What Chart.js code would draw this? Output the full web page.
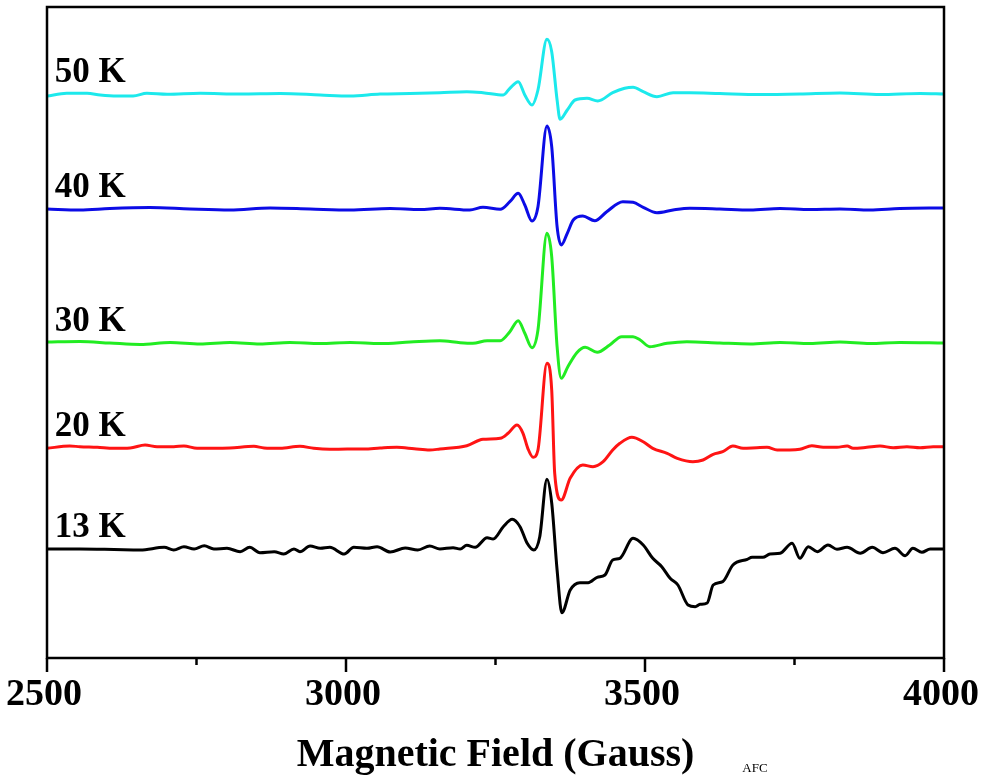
<!DOCTYPE html>
<html>
<head>
<meta charset="utf-8">
<script src="https://cdn.jsdelivr.net/npm/chart.js@4"></script>
<style>
html,body{margin:0;padding:0;background:#fff;}
#wrap{width:985px;height:775px;position:relative;}
</style>
</head>
<body>
<div id="wrap"><canvas id="c" width="985" height="775"></canvas></div>
<script>
// ---- data (field in Gauss, signal relative to each trace's baseline) ----
const seriesNames = ["50 K", "40 K", "30 K", "20 K", "13 K"];
const offsets = [564, 449, 315, 210, 109];

const field50 = [2500,2533,2567,2589,2617,2644,2667,2701,2756,2823,2890,2957,3007,3057,3107,3157,3202,3229,3263,3274,3288,3299,3311,3321,3336,3344,3353,3358,3370,3383,3403,3421,3446,3466,3480,3497,3520,3547,3575,3625,3692,3759,3826,3893,3960,4000];
const signal50 = [-2,0.7,0.7,-1,-2,-2,0.7,-0.3,0.7,0,0.5,-1,-2,0,0.5,1.3,2.3,1.3,-1,5.7,12.3,-1,-11,4,54.7,42.3,-6,-25.3,-16,-6,-4.3,-7,1.3,5.7,6.7,2.3,-2.7,1.3,1.3,0.5,-0.5,0,1,-0.5,0.5,0];

const field40 = [2500,2555,2605,2672,2739,2806,2873,2940,3007,3074,3124,3157,3207,3229,3258,3274,3288,3299,3311,3321,3336,3344,3353,3360,3370,3380,3396,3416,3436,3463,3480,3497,3520,3547,3575,3625,3676,3726,3776,3826,3876,3926,4000];
const signal40 = [0,-1,0.5,1.5,0,-1,1,0,-1,0.5,-0.5,0.7,-1,1.7,-0.3,7.3,15.7,4,-12,2.3,83,62.3,-17.7,-36,-24.3,-11,-7,-11.7,-2.7,7.3,6.7,1.7,-3.7,-1,0.7,0,-1,0.5,-0.5,0,-1,0.5,1];

const field30 = [2500,2555,2605,2656,2706,2756,2806,2856,2906,2957,3007,3057,3107,3157,3191,3212,3236,3258,3274,3288,3299,3311,3321,3336,3344,3353,3360,3371,3386,3400,3420,3441,3461,3480,3492,3508,3537,3570,3625,3676,3726,3776,3826,3876,3926,4000];
const signal30 = [1,1.5,0,-1.5,0.5,-1,0.5,-1,0.5,-0.5,0.5,-0.5,1,2.3,0.3,-0.3,2.3,2.3,11.3,22.3,9.7,-4.7,13,109.7,86.3,-3.7,-35.3,-23.7,-9.7,-4.3,-9.3,-2,6.3,6.3,3,-3.7,-0.3,1.3,0,-1,0.5,-0.5,1,-0.5,0.5,0];

const field20 = [2500,2538,2555,2584,2612,2639,2664,2684,2712,2729,2751,2779,2806,2846,2863,2890,2923,2946,2973,3002,3030,3057,3085,3114,3140,3157,3202,3229,3258,3271,3286,3296,3304,3313,3321,3336,3344,3349,3360,3375,3396,3413,3430,3446,3458,3478,3497,3513,3537,3554,3580,3597,3614,3630,3647,3664,3687,3704,3721,3742,3759,3779,3798,3821,3838,3848,3871,3893,3915,3938,3960,3982,4000];
const signal20 = [-0.3,2,1.3,0.7,-0.3,0,3,1.3,1.3,2,-0.3,-0.3,0,1.7,0,-0.3,1.7,-0.3,-1.3,-1,-1,0,0.7,-0.7,-2,-1,2.3,8.7,9.7,14.7,23,14.7,-0.3,-9.3,-2,84.7,58,-25.3,-52,-30,-17,-18.7,-13.7,-2,4.7,10.7,6.3,-0.3,-5.3,-10.3,-13.7,-12,-6.3,-3.7,2,-0.3,0.3,0.7,-2,-2,-1.3,2.3,0.7,0.7,2,-0.3,0.7,2,0.3,1.3,0.3,1.3,1.3];

const field13 = [2500,2555,2612,2656,2696,2712,2729,2746,2763,2779,2801,2823,2839,2856,2880,2896,2913,2923,2940,2957,2973,2997,3013,3035,3052,3074,3099,3120,3140,3157,3179,3191,3202,3216,3236,3246,3263,3278,3291,3303,3314,3324,3336,3344,3353,3361,3375,3391,3405,3420,3433,3446,3458,3480,3497,3513,3528,3542,3555,3572,3584,3592,3604,3614,3630,3647,3671,3679,3697,3709,3726,3746,3759,3773,3788,3806,3821,3838,3860,3880,3898,3918,3935,3948,3963,3977,4000];
const signal13 = [0,0,-0.5,-1,1.7,-1,2.3,0,3.3,0,0.7,-2.7,1.7,-3.7,-2.7,-5,0,-2.7,3,0.7,1.7,-5,1.7,0.7,2.3,-3,1,-1,3,0,1.3,0,3.7,1.7,11.3,10,22.3,29.7,22.3,5.7,-1,12.3,69.7,46,-21,-63.7,-41,-33.7,-33.7,-28.3,-26,-11,-9.3,10.7,4,-9.3,-17.7,-29.3,-36,-56,-57.7,-55.3,-54,-36,-32.7,-16,-10.3,-8.3,-8.3,-5,-4.3,5.7,-9.3,2.3,-2.7,4,-0.3,1.7,-4.3,1.7,-3.7,0.7,-6.7,0.7,-3.3,0,0];

const majorTicks = [2500, 3000, 3500, 4000];
const minorTicks = [2750, 3250, 3750];
const xTitle = "Magnetic Field (Gauss)";
const footText = "AFC";

// ---- build datasets ----
const fields = [field50, field40, field30, field20, field13];
const signals = [signal50, signal40, signal30, signal20, signal13];
const colors = ["#1ce9ec", "#0c0ce6", "#22ec22", "#ff1414", "#000000"];

const datasets = seriesNames.map((name, i) => ({
  label: name,
  data: fields[i].map((f, j) => ({x: f, y: offsets[i] + signals[i][j]})),
  borderColor: colors[i],
  backgroundColor: colors[i],
  borderWidth: 3,
  pointRadius: 0,
  fill: false,
  cubicInterpolationMode: 'monotone'
}));

const SERIF = '"Liberation Serif", "Times New Roman", serif';

const overlay = {
  id: 'overlay',
  afterDraw(chart) {
    const ctx = chart.ctx;
    const a = chart.chartArea;
    const xs = chart.scales.x, ys = chart.scales.y;
    ctx.save();
    ctx.strokeStyle = '#000';
    ctx.lineWidth = 2.5;
    ctx.strokeRect(a.left, a.top, a.right - a.left, a.bottom - a.top);
    majorTicks.forEach(v => {
      const px = xs.getPixelForValue(v);
      ctx.beginPath(); ctx.moveTo(px, a.bottom); ctx.lineTo(px, a.bottom + 14); ctx.stroke();
    });
    minorTicks.forEach(v => {
      const px = xs.getPixelForValue(v);
      ctx.beginPath(); ctx.moveTo(px, a.bottom); ctx.lineTo(px, a.bottom + 7); ctx.stroke();
    });
    ctx.fillStyle = '#000';
    ctx.textAlign = 'center';
    ctx.textBaseline = 'alphabetic';
    ctx.font = 'bold 38px ' + SERIF;
    majorTicks.forEach(v => {
      ctx.fillText(String(v), xs.getPixelForValue(v) - 3, a.bottom + 47);
    });
    ctx.font = 'bold 40px ' + SERIF;
    ctx.fillText(xTitle, (a.left + a.right) / 2, 766);
    ctx.font = '13px ' + SERIF;
    ctx.fillText(footText, 755, 772);
    // trace labels
    ctx.textAlign = 'left';
    ctx.font = 'bold 35px ' + SERIF;
    seriesNames.forEach((name, i) => {
      const px = xs.getPixelForValue(2513);
      const py = ys.getPixelForValue(offsets[i]) - 12;
      ctx.fillText(name, px, py);
    });
    ctx.restore();
  }
};

new Chart(document.getElementById('c'), {
  type: 'line',
  data: { datasets },
  options: {
    responsive: false,
    devicePixelRatio: 1,
    animation: false,
    layout: { padding: { left: 47, right: 41, top: 7, bottom: 117 } },
    plugins: { legend: { display: false }, tooltip: { enabled: false } },
    scales: {
      x: { type: 'linear', min: 2500, max: 4000, display: false },
      y: { type: 'linear', min: 0, max: 651, display: false }
    }
  },
  plugins: [overlay]
});
</script>
</body>
</html>
